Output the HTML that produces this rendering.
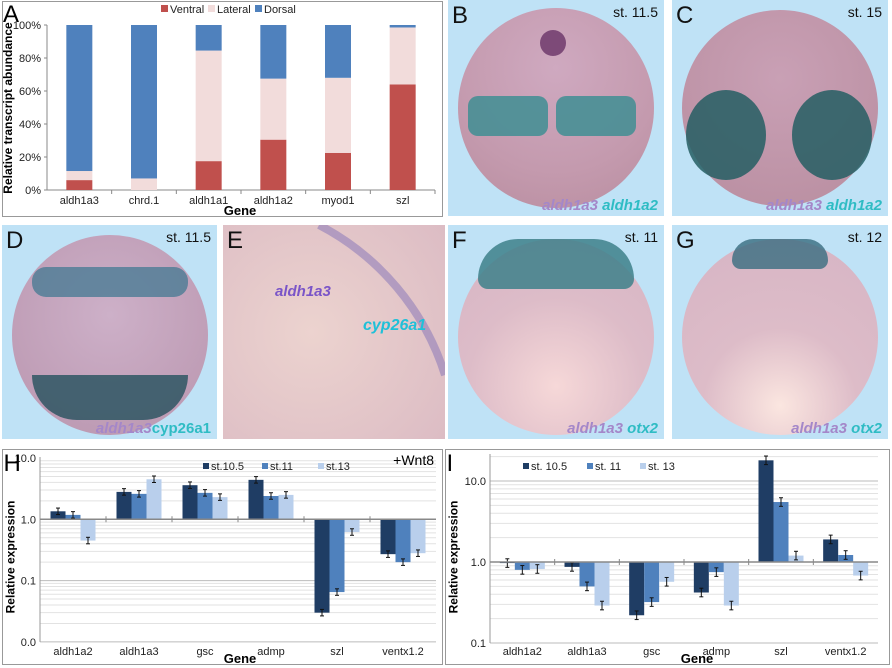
<!DOCTYPE html>
<html><head><meta charset="utf-8">
<style>
html,body{margin:0;width:892px;height:668px;overflow:hidden}
body{background:#fff;position:relative;font-family:"Liberation Sans",sans-serif}
.p{position:absolute;overflow:hidden}
.ph{background:#bfe2f6}
.lbl{position:absolute;font-size:24px;color:#111}
.st{position:absolute;font-size:14px;color:#111}
.gn{position:absolute;font-size:15px;font-style:italic;font-weight:bold;white-space:nowrap}
.emb{position:absolute;border-radius:50%}
svg text{font-family:"Liberation Sans",sans-serif}
</style></head><body>
<svg id="chartA" width="892" height="668" style="position:absolute;left:0;top:0;display:block"></svg>

<div class="p ph" style="left:448px;top:0;width:216px;height:216px">
 <div class="emb" style="left:10px;top:8px;width:196px;height:200px;background:radial-gradient(circle at 50% 30%,#cfa9c0,#c49aae 60%,#b88d9f)"></div>
 <div style="position:absolute;left:20px;top:96px;width:80px;height:40px;border-radius:10px;background:#3f8e93;opacity:.85"></div>
 <div style="position:absolute;left:108px;top:96px;width:80px;height:40px;border-radius:10px;background:#3f8e93;opacity:.85"></div>
 <div style="position:absolute;left:92px;top:30px;width:26px;height:26px;border-radius:50%;background:#7d4a78"></div>
 <div class="lbl" style="left:4px;top:2px">B</div>
 <div class="st" style="right:6px;top:4px">st. 11.5</div>
 <div class="gn" style="right:6px;bottom:2px"><span style="color:#a487c9">aldh1a3</span> <span style="color:#2fbcc4">aldh1a2</span></div>
</div>
<div class="p ph" style="left:672px;top:0;width:216px;height:216px">
 <div class="emb" style="left:10px;top:10px;width:196px;height:196px;background:radial-gradient(circle at 50% 35%,#c9a0b5,#b88d9f)"></div>
 <div class="emb" style="left:14px;top:90px;width:80px;height:90px;background:#245e63;opacity:.85"></div>
 <div class="emb" style="left:120px;top:90px;width:80px;height:90px;background:#245e63;opacity:.85"></div>
 <div class="lbl" style="left:4px;top:2px">C</div>
 <div class="st" style="right:6px;top:4px">st. 15</div>
 <div class="gn" style="right:6px;bottom:2px"><span style="color:#a487c9">aldh1a3</span> <span style="color:#2fbcc4">aldh1a2</span></div>
</div>
<div class="p ph" style="left:2px;top:225px;width:215px;height:214px">
 <div class="emb" style="left:10px;top:10px;width:196px;height:200px;background:radial-gradient(circle at 50% 40%,#cdb0c8,#b995ae)"></div>
 <div style="position:absolute;left:30px;top:42px;width:156px;height:30px;border-radius:14px;background:#4b7c95;opacity:.8"></div>
 <div style="position:absolute;left:30px;top:150px;width:156px;height:45px;border-radius:0 0 80px 80px;background:#2e5663;opacity:.85"></div>
 <div class="lbl" style="left:4px;top:2px">D</div>
 <div class="st" style="right:6px;top:4px">st. 11.5</div>
 <div class="gn" style="right:6px;bottom:2px"><span style="color:#a487c9">aldh1a3</span><span style="color:#2fbcc4;font-style:normal">cyp26a1</span></div>
</div>
<div class="p" style="left:223px;top:225px;width:222px;height:214px;background:radial-gradient(circle at 40% 50%,#ecd3cf,#dcbcc4)">
 <svg width="222" height="214" style="position:absolute;left:0;top:0;display:block"><path d="M96 0 A256 256 0 0 1 222 150" fill="none" stroke="#8b78b8" stroke-width="8" opacity="0.55"/></svg>
 <div class="lbl" style="left:4px;top:2px">E</div>
 <div class="gn" style="left:52px;top:58px;color:#7a55c8;font-size:15px">aldh1a3</div>
 <div class="gn" style="left:140px;top:92px;color:#1fc0d8;font-size:16px">cyp26a1</div>
</div>
<div class="p ph" style="left:448px;top:225px;width:216px;height:214px">
 <div class="emb" style="left:10px;top:14px;width:196px;height:196px;background:radial-gradient(circle at 50% 75%,#f6d8d8,#ddbcc8 50%,#d6b4c4)"></div>
 <div style="position:absolute;left:30px;top:14px;width:156px;height:50px;border-radius:80px 80px 20px 20px;background:#3d8089;opacity:.85"></div>
 <div class="lbl" style="left:4px;top:2px">F</div>
 <div class="st" style="right:6px;top:4px">st. 11</div>
 <div class="gn" style="right:6px;bottom:2px"><span style="color:#a487c9">aldh1a3</span> <span style="color:#2fbcc4">otx2</span></div>
</div>
<div class="p ph" style="left:672px;top:225px;width:216px;height:214px">
 <div class="emb" style="left:10px;top:14px;width:196px;height:196px;background:radial-gradient(circle at 50% 85%,#fbe6e0,#ddbcc8 40%,#d6b4c4)"></div>
 <div style="position:absolute;left:60px;top:14px;width:96px;height:30px;border-radius:50px 50px 20px 20px;background:#386d80;opacity:.8"></div>
 <div class="lbl" style="left:4px;top:2px">G</div>
 <div class="st" style="right:6px;top:4px">st. 12</div>
 <div class="gn" style="right:6px;bottom:2px"><span style="color:#a487c9">aldh1a3</span> <span style="color:#2fbcc4">otx2</span></div>
</div>

<script>
// Panel A data
const catsA=["aldh1a3","chrd.1","aldh1a1","aldh1a2","myod1","szl"];
const ventral=[6,0,17.5,30.5,22.5,64];
const lateral=[5.5,7,67,37,45.5,34.5];
const dorsal=[88.5,93,15.5,32.5,32,1.5];
const ticksA=["0%","20%","40%","60%","80%","100%"];
// Panel H data
const catsH=["aldh1a2","aldh1a3","gsc","admp","szl","ventx1.2"];
const h105=[1.35,2.8,3.6,4.4,0.03,0.27];
const h11=[1.18,2.6,2.7,2.4,0.065,0.2];
const h13=[0.45,4.5,2.3,2.5,0.62,0.28];
const ticksH=["0.0","0.1","1.0","10.0"];
// Panel I data
const catsI=["aldh1a2","aldh1a3","gsc","admp","szl","ventx1.2"];
const i105=[0.97,0.87,0.22,0.42,18,1.9];
const i11=[0.8,0.5,0.32,0.75,5.5,1.22];
const i13=[0.82,0.29,0.57,0.29,1.2,0.68];
const ticksI=["0.1","1.0","10.0"];

const NS="http://www.w3.org/2000/svg";
const svg=document.getElementById('chartA');
function mk(t,a,txt){const e=document.createElementNS(NS,t);for(const k in a)e.setAttribute(k,a[k]);if(txt!==undefined)e.textContent=txt;svg.appendChild(e);return e;}

// ---- Panel A ----
let e=mk('rect',{x:2.5,y:1.5,width:440,height:215,fill:'#fff',stroke:'#999'});


const ax0=47,ax1=435,ay0=190,ay1=25;
const yA=v=>ay0-(v/100)*(ay0-ay1);
const stepA=(ax1-ax0)/catsA.length;
ticksA.forEach((t,i)=>{const y=yA(i*20);
 e=mk('text',{x:41,y:y+4,'font-size':11,'text-anchor':'end',fill:'#222'},t);
 
 
 mk('line',{x1:ax0-3,x2:ax0,y1:y,y2:y,stroke:'#888'});});
mk('line',{x1:ax0,x2:ax0,y1:ay1,y2:ay0,stroke:'#888'});
mk('line',{x1:ax0,x2:ax1,y1:ay0,y2:ay0,stroke:'#888'});
catsA.forEach((c,i)=>{
 const cx=ax0+stepA*(i+0.5),w=26;
 let base=0;
 [[ventral,'#c0504d','ventral'],[lateral,'#f2dcdb','lateral'],[dorsal,'#4f81bd','dorsal']].forEach(([arr,col,nm])=>{
  const v=arr[i]; if(v>0){
  e=mk('rect',{x:cx-w/2,y:yA(base+v),width:w,height:yA(base)-yA(base+v),fill:col});
  
  }
  base+=v;});
 e=mk('text',{x:cx,y:204,'font-size':11,'text-anchor':'middle',fill:'#222'},c);
 
 
 mk('line',{x1:ax0+stepA*(i+1),x2:ax0+stepA*(i+1),y1:ay0,y2:ay0+4,stroke:'#888'});
});
e=mk('text',{x:240,y:215,'font-size':13,'font-weight':'bold','text-anchor':'middle'},'Gene');


e=mk('text',{x:0,y:0,'font-size':12,'font-weight':'bold','text-anchor':'middle',transform:'translate(12,108) rotate(-90)'},'Relative transcript abundance');


[['Ventral','#c0504d',161],['Lateral','#f2dcdb',208],['Dorsal','#4f81bd',255]].forEach(([n,c,x])=>{
 e=mk('rect',{x:x,y:5,width:7,height:7,fill:c});
 
 
 e=mk('text',{x:x+9,y:13,'font-size':11,fill:'#222'},n);
 
 });
e=mk('text',{x:3,y:22,'font-size':24},'A');



// ---- log bar charts ----
function logChart(p){
 e=mk('rect',{x:p.fx,y:449.5,width:p.fw,height:215,fill:'#fff',stroke:'#999'});
 
 
 const y=v=>p.y1-Math.log10(v)*p.dec;
 for(let d=p.minE;d<p.maxE;d++){for(let m=1;m<10;m++){const v=Math.pow(10,d)*m;const yy=y(v);
   if(yy<p.top) continue;
   mk('line',{x1:p.x0,x2:p.x1,y1:yy,y2:yy,stroke:m==1?'#bbb':'#e2e2e2'});}}
 mk('line',{x1:p.x0,x2:p.x0,y1:p.top,y2:y(Math.pow(10,p.minE)),stroke:'#999'});
 p.ticks.forEach((t,i)=>{const yy=y(Math.pow(10,p.minE+i));
  e=mk('text',{x:p.x0-4,y:yy+4,'font-size':11,'text-anchor':'end',fill:'#222'},t);
  
  });
 const step=(p.x1-p.x0)/p.cats.length,w=15;
 const cols=['#1f3d64','#4f81bd','#b9cfec'];
 p.cats.forEach((c,i)=>{
  const cx=p.x0+step*(i+0.5);
  p.series.forEach((s,j)=>{
   const v=s[i],x=cx+(j-1.5)*w,ya=y(v),yb=y(1);
   e=mk('rect',{x:x,y:Math.min(ya,yb),width:w,height:Math.abs(ya-yb),fill:cols[j]});
   
   
   const ey1=y(v*1.13),ey2=y(v/1.13),xm=x+w/2;
   mk('line',{x1:xm,x2:xm,y1:ey1,y2:ey2,stroke:'#111'});
   mk('line',{x1:xm-2,x2:xm+2,y1:ey1,y2:ey1,stroke:'#111'});
   mk('line',{x1:xm-2,x2:xm+2,y1:ey2,y2:ey2,stroke:'#111'});
  });
  e=mk('text',{x:cx,y:655,'font-size':11,'text-anchor':'middle',fill:'#222'},c);
  
  
  if(i<p.cats.length-1) mk('line',{x1:p.x0+step*(i+1),x2:p.x0+step*(i+1),y1:y(1)-3,y2:y(1)+3,stroke:'#888'});
 });
 mk('line',{x1:p.x0,x2:p.x1,y1:y(1),y2:y(1),stroke:'#888','stroke-width':1.5});
 e=mk('text',{x:p.gx,y:663,'font-size':13,'font-weight':'bold','text-anchor':'middle'},'Gene');
 
 
 e=mk('text',{x:0,y:0,'font-size':12,'font-weight':'bold','text-anchor':'middle',transform:`translate(${p.fx+12},557) rotate(-90)`},'Relative expression');
 
 
 p.leg.forEach((n,j)=>{const lx=p.lx[j];
  e=mk('rect',{x:lx,y:463,width:6,height:6,fill:cols[j]});
  
  
  e=mk('text',{x:lx+8,y:470,'font-size':11,fill:'#222'},n);
  
  });
 e=mk('text',{x:p.fx+1,y:471,'font-size':24},p.label);
 
 
}
logChart({id:'h',label:'H',fx:2.5,fw:440,x0:40,x1:436,y1:519.3,dec:61.3,top:457,minE:-2,maxE:1,ticks:ticksH,cats:catsH,series:[h105,h11,h13],gx:240,leg:['st.10.5','st.11','st.13'],lx:[203,262,318]});
e=mk('text',{x:434,y:465,'font-size':14,'text-anchor':'end'},'+Wnt8');


logChart({id:'i',label:'I',fx:445.5,fw:444,x0:490,x1:878,y1:562,dec:81,top:454,minE:-1,maxE:2,ticks:ticksI,cats:catsI,series:[i105,i11,i13],gx:697,leg:['st. 10.5','st. 11','st. 13'],lx:[523,587,640]});
</script>
</body></html>
